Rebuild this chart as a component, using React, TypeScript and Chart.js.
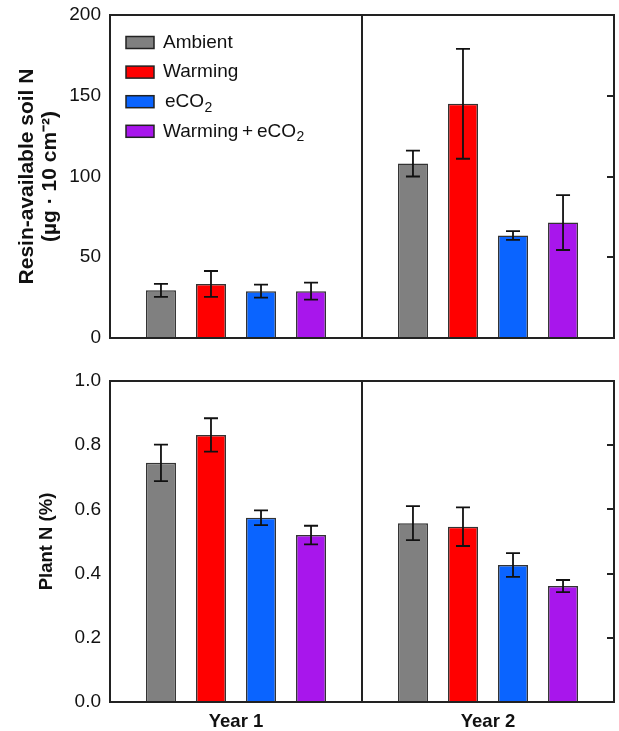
import React, { useEffect, useRef } from 'react';
import { Chart, registerables } from 'chart.js';
Chart.register(...registerables);

const categories = ['Year 1', 'Year 2'];
const treatments = ['Ambient', 'Warming', 'eCO2', 'Warming+eCO2'];
const colors = ['#808080', '#ff0000', '#0a64ff', '#a816ec'];

// Resin-available soil N (µg·10 cm-2)
const soilAmbient = [29.5, 108];
const soilAmbientErr = [4, 8];
const soilWarming = [33.5, 145];
const soilWarmingErr = [8, 34];
const soilECO2 = [29, 63.5];
const soilECO2Err = [4, 2.7];
const soilWarmECO2 = [29, 71.5];
const soilWarmECO2Err = [5.3, 17];

// Plant N (%)
const plantAmbient = [0.745, 0.557];
const plantAmbientErr = [0.057, 0.053];
const plantWarming = [0.832, 0.546];
const plantWarmingErr = [0.052, 0.06];
const plantECO2 = [0.574, 0.427];
const plantECO2Err = [0.023, 0.037];
const plantWarmECO2 = [0.52, 0.361];
const plantWarmECO2Err = [0.029, 0.019];

const soilTickMax = 200;
const soilTickStep = 50;
const plantTickMax = 1.0;
const plantTickStep = 0.2;

const FONT = "'Liberation Sans', Arial, Helvetica, sans-serif";
const INK = '#222';

const errorBarPlugin = {
  id: 'errorBars',
  afterDatasetsDraw(chart: any) {
    const { ctx } = chart;
    const ys = chart.scales.y;
    ctx.save();
    ctx.strokeStyle = '#111';
    ctx.lineWidth = 1.8;
    chart.data.datasets.forEach((ds: any, i: number) => {
      const meta = chart.getDatasetMeta(i);
      meta.data.forEach((bar: any, j: number) => {
        const v = ds.data[j];
        const e = ds.errors[j];
        const x = bar.x;
        const yT = ys.getPixelForValue(v + e);
        const yB = ys.getPixelForValue(v - e);
        ctx.beginPath();
        ctx.moveTo(x, yT);
        ctx.lineTo(x, yB);
        ctx.moveTo(x - 7, yT);
        ctx.lineTo(x + 7, yT);
        ctx.moveTo(x - 7, yB);
        ctx.lineTo(x + 7, yB);
        ctx.stroke();
      });
    });
    ctx.restore();
  },
};

const framePlugin = {
  id: 'frame',
  afterDraw(chart: any) {
    const { ctx } = chart;
    const { left, right, top, bottom } = chart.chartArea;
    const ys = chart.scales.y;
    ctx.save();
    ctx.strokeStyle = INK;
    ctx.lineWidth = 2;
    ctx.strokeRect(left, top, right - left, bottom - top);
    ctx.beginPath();
    ys.ticks.forEach((t: any) => {
      if (t.value > ys.min && t.value < ys.max) {
        const y = Math.round(ys.getPixelForValue(t.value));
        ctx.moveTo(right - 7, y);
        ctx.lineTo(right, y);
      }
    });
    ctx.stroke();
    ctx.restore();
  },
};

const legendPlugin = {
  id: 'innerLegend',
  afterDraw(chart: any) {
    const { ctx } = chart;
    ctx.save();
    chart.data.datasets.forEach((ds: any, i: number) => {
      const yc = 42.5 + i * 29.6;
      ctx.fillStyle = ds.backgroundColor;
      ctx.fillRect(126, yc - 6, 28, 12);
      ctx.strokeStyle = '#222';
      ctx.lineWidth = 1.5;
      ctx.strokeRect(126, yc - 6, 28, 12);
      let label: string = ds.label;
      let sub = '';
      if (/CO2$/.test(label)) {
        sub = '2';
        label = label.slice(0, -1);
      }
      label = label.replace('+', '\u2009+\u2009');
      ctx.fillStyle = '#111';
      ctx.textBaseline = 'middle';
      ctx.textAlign = 'left';
      ctx.font = `19px ${FONT}`;
      const x0 = i === 2 ? 165 : 163;
      ctx.fillText(label, x0, yc);
      if (sub) {
        const w = ctx.measureText(label).width;
        ctx.font = `14px ${FONT}`;
        ctx.fillText(sub, x0 + w + 0.5, yc + 6);
      }
    });
    ctx.restore();
  },
};

function makeDatasets(values: number[][], errs: number[][]) {
  return treatments.map((t, i) => ({
    label: t,
    data: values[i],
    errors: errs[i],
    backgroundColor: colors[i],
    borderColor: '#333',
    borderWidth: 1.5,
    categoryPercentage: 0.794,
    barPercentage: 0.6,
  }));
}

function makeConfig(opts: {
  datasets: any[];
  max: number;
  step: number;
  decimals: number;
  title: string[];
  titleSize: number;
  titleLineHeight: number;
  titleTopPad: number;
  padTop: number;
  xHeight: number;
  showX: boolean;
  legend: boolean;
}) {
  const plugins: any[] = [errorBarPlugin, framePlugin];
  if (opts.legend) plugins.push(legendPlugin);
  return {
    type: 'bar' as const,
    data: { labels: categories, datasets: opts.datasets },
    plugins,
    options: {
      responsive: false,
      animation: false as const,
      devicePixelRatio: 1,
      layout: { padding: { top: opts.padTop, right: 5, left: 0, bottom: 0 } },
      plugins: { legend: { display: false }, tooltip: { enabled: false } },
      scales: {
        x: {
          offset: true,
          grid: { display: true, color: INK, lineWidth: 2, drawTicks: false, offset: true },
          border: { display: true, color: INK, width: 2 },
          ticks: {
            display: opts.showX,
            padding: 9,
            color: '#111',
            font: { family: FONT, size: 18.5, weight: 'bold' },
          },
          afterFit: (s: any) => {
            s.height = opts.xHeight;
            s.paddingLeft = 0;
            s.paddingRight = 0;
          },
        },
        y: {
          min: 0,
          max: opts.max,
          grid: { display: false, drawTicks: false },
          border: { display: true, color: INK, width: 2 },
          ticks: {
            stepSize: opts.step,
            padding: 9,
            color: '#111',
            font: { family: FONT, size: 19 },
            callback: (v: any) => Number(v).toFixed(opts.decimals),
          },
          title: {
            display: true,
            text: opts.title,
            color: '#111',
            font: { family: FONT, size: opts.titleSize, weight: 'bold', lineHeight: opts.titleLineHeight },
            padding: { top: opts.titleTopPad, bottom: 0 },
          },
          afterFit: (s: any) => {
            s.width = 110;
            s.paddingTop = 0;
            s.paddingBottom = 0;
          },
        },
      },
    },
  };
}

export default function App() {
  const topRef = useRef<HTMLCanvasElement>(null);
  const botRef = useRef<HTMLCanvasElement>(null);

  useEffect(() => {
    const top = new Chart(
      topRef.current as HTMLCanvasElement,
      makeConfig({
        datasets: makeDatasets(
          [soilAmbient, soilWarming, soilECO2, soilWarmECO2],
          [soilAmbientErr, soilWarmingErr, soilECO2Err, soilWarmECO2Err]
        ),
        max: soilTickMax,
        step: soilTickStep,
        decimals: 0,
        title: ['Resin-available soil N', '(µg · 10 cm\u207B\u00B2)'],
        titleSize: 21,
        titleLineHeight: 1.1,
        titleTopPad: 15.5,
        padTop: 15,
        xHeight: 17,
        showX: false,
        legend: true,
      }) as any
    );
    const bot = new Chart(
      botRef.current as HTMLCanvasElement,
      makeConfig({
        datasets: makeDatasets(
          [plantAmbient, plantWarming, plantECO2, plantWarmECO2],
          [plantAmbientErr, plantWarmingErr, plantECO2Err, plantWarmECO2Err]
        ),
        max: plantTickMax,
        step: plantTickStep,
        decimals: 1,
        title: ['Plant N (%)'],
        titleSize: 18.5,
        titleLineHeight: 1.2,
        titleTopPad: 36,
        padTop: 26,
        xHeight: 29,
        showX: true,
        legend: false,
      }) as any
    );
    return () => {
      top.destroy();
      bot.destroy();
    };
  }, []);

  return (
    <div style={{ position: 'absolute', left: 0, top: 0, width: 619, height: 731, background: '#fff' }}>
      <canvas ref={topRef} width={619} height={355} style={{ display: 'block', width: 619, height: 355 }} />
      <canvas ref={botRef} width={619} height={376} style={{ display: 'block', width: 619, height: 376 }} />
    </div>
  );
}
